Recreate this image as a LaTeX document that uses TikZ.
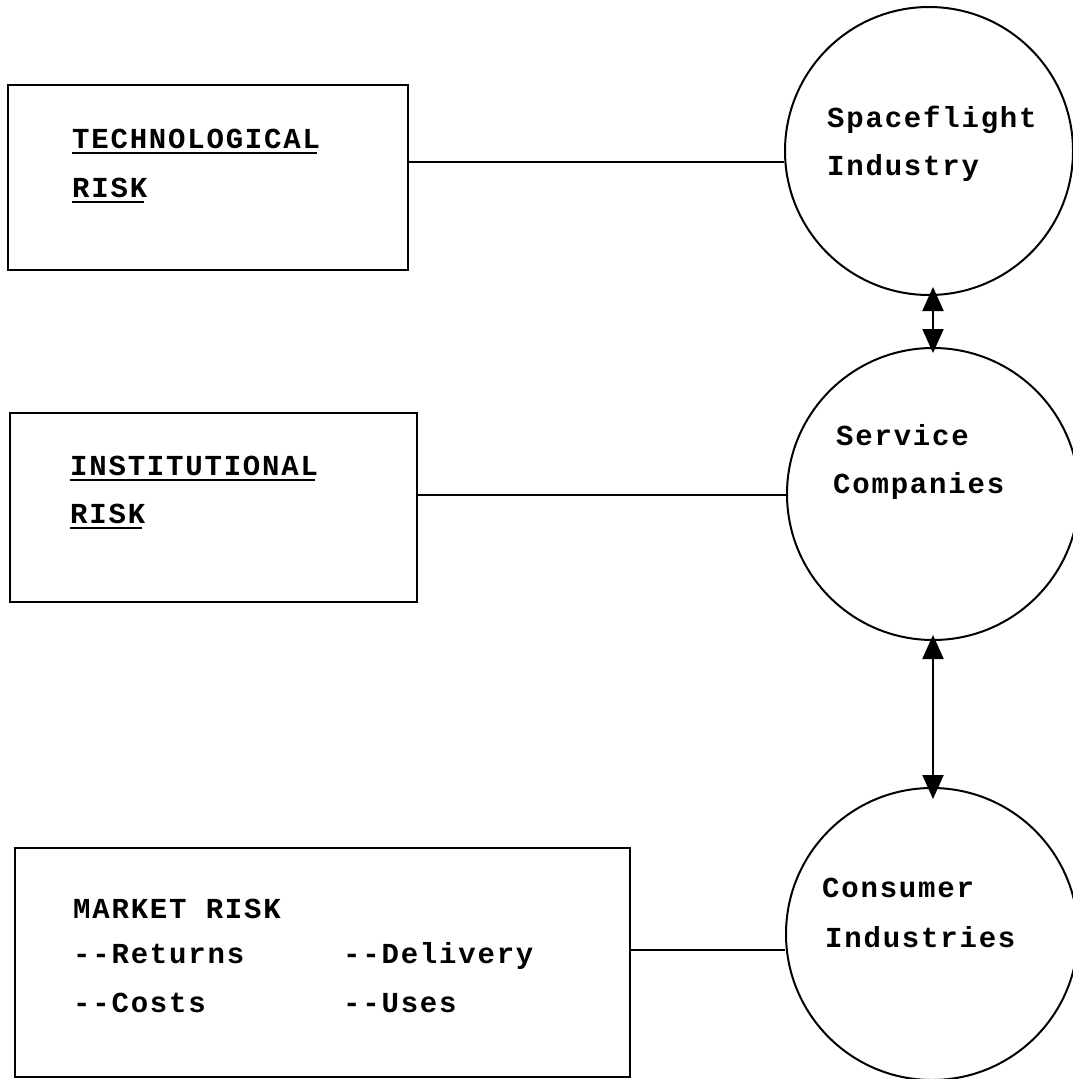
\documentclass[tikz,border=0pt]{standalone}
\usepackage{fontspec}
\newfontfamily\typew[LetterSpace=6.2]{Liberation Mono}
\usetikzlibrary{arrows.meta}
\tikzset{
  riskbox/.style={draw, line width=2pt},
  bubble/.style={draw, circle, line width=2pt, inner sep=0pt},
  label/.style={anchor=base west, inner sep=0pt, font=\typew\bfseries\fontsize{29}{35}\selectfont},
  link/.style={line width=2pt},
  twoway/.style={line width=2.2pt, {Triangle[width=21pt,length=24pt]}-{Triangle[width=21pt,length=24pt]}},
  uline/.style={line width=1.8pt}
}
\begin{document}
\begin{tikzpicture}[x=1pt,y=-1pt]
\useasboundingbox (0,0) rectangle (1072,1079);
% boxes
\draw[riskbox] (8,85) rectangle (408,270);
\coordinate (b1r) at (408,162);
\draw[riskbox] (10,413) rectangle (417,602);
\coordinate (b2r) at (417,495);
\draw[riskbox] (15,848) rectangle (630,1077);
\coordinate (b3r) at (630,950);
% circles
\node[bubble, minimum size=288pt] (c1) at (929,151) {};
\node[bubble, minimum size=292pt] (c2) at (933,494) {};
\node[bubble, minimum size=292pt] (c3) at (932,934) {};
\coordinate (a1top) at (933,295);
% box texts
\node[label] (t1) at (72,148) {TECHNOLOGICAL};
\node[label] (t2) at (72,197) {RISK};
\draw[uline] ([yshift=-5pt]t1.base west) -- ([yshift=-5pt,xshift=-3pt]t1.base east);
\draw[uline] ([yshift=-5pt]t2.base west) -- ([yshift=-5pt,xshift=-3pt]t2.base east);
\node[label] (i1) at (70,475) {INSTITUTIONAL};
\node[label] (i2) at (70,523) {RISK};
\draw[uline] ([yshift=-5pt]i1.base west) -- ([yshift=-5pt,xshift=-3pt]i1.base east);
\draw[uline] ([yshift=-5pt]i2.base west) -- ([yshift=-5pt,xshift=-3pt]i2.base east);
\node[label] (m1) at (73,918) {MARKET RISK};
\node[label] (m2) at (73,963) {-{}-Returns};
\node[label] (m3) at (73,1012) {-{}-Costs};
\node[label] (m4) at (343,963) {-{}-Delivery};
\node[label] (m5) at (343,1012) {-{}-Uses};
% circle texts
\node[label] (s1) at (827,127) {Spaceflight};
\node[label] (s2) at (827,175) {Industry};
\node[label] (v1) at (836,445) {Service};
\node[label] (v2) at (833,493) {Companies};
\node[label] (k1) at (822,897) {Consumer};
\node[label] (k2) at (825,947) {Industries};
% connectors
\draw[link] (b1r) -- (c1.west |- b1r);
\draw[link] (b2r) -- (c2.west |- b2r);
\draw[link] (b3r) -- (c3.west |- b3r);
\draw[twoway, shorten <=-8pt, shorten >=-6pt] (a1top) -- (c2.north);
\draw[twoway, shorten <=-6pt, shorten >=-12pt] (c2.south) -- (c3.north -| c2.south);
\end{tikzpicture}
\end{document}
